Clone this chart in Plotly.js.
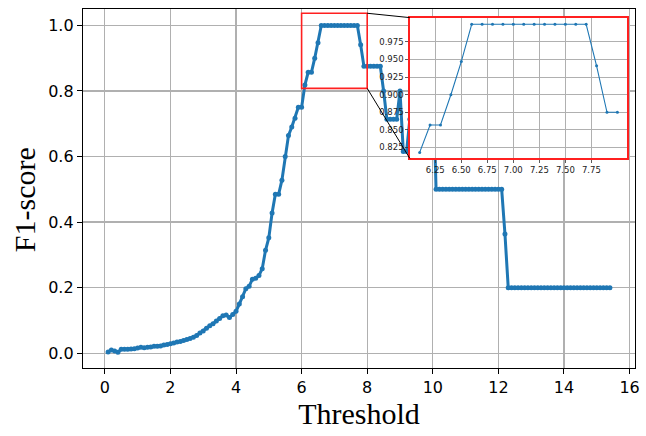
<!DOCTYPE html>
<html>
<head>
<meta charset="utf-8">
<script src="https://cdn.plot.ly/plotly-3.0.1.min.js"></script>
<style>html,body{margin:0;padding:0;background:#fff;}#chart{width:646px;height:436px;}</style>
</head>
<body>
<div id="chart"></div>
<script>
// Threshold values (0.1 .. 15.4, step 0.1) and read-off F1-scores
const thresholds = [
 0.1,0.2,0.3,0.4,0.5,0.6,0.7,0.8,0.9,1.0,
 1.1,1.2,1.3,1.4,1.5,1.6,1.7,1.8,1.9,2.0,
 2.1,2.2,2.3,2.4,2.5,2.6,2.7,2.8,2.9,3.0,
 3.1,3.2,3.3,3.4,3.5,3.6,3.7,3.8,3.9,4.0,
 4.1,4.2,4.3,4.4,4.5,4.6,4.7,4.8,4.9,5.0,
 5.1,5.2,5.3,5.4,5.5,5.6,5.7,5.8,5.9,6.0,
 6.1,6.2,6.3,6.4,6.5,6.6,6.7,6.8,6.9,7.0,
 7.1,7.2,7.3,7.4,7.5,7.6,7.7,7.8,7.9,8.0,
 8.1,8.2,8.3,8.4,8.5,8.6,8.7,8.8,8.9,9.0,
 9.1,9.2,9.3,9.4,9.5,9.6,9.7,9.8,9.9,10.0,
 10.1,10.2,10.3,10.4,10.5,10.6,10.7,10.8,10.9,11.0,
 11.1,11.2,11.3,11.4,11.5,11.6,11.7,11.8,11.9,12.0,
 12.1,12.2,12.3,12.4,12.5,12.6,12.7,12.8,12.9,13.0,
 13.1,13.2,13.3,13.4,13.5,13.6,13.7,13.8,13.9,14.0,
 14.1,14.2,14.3,14.4,14.5,14.6,14.7,14.8,14.9,15.0,
 15.1,15.2,15.3,15.4
];
const f1scores = [
 0.004,0.010,0.007,0.003,0.012,0.012,0.012,0.013,0.014,0.016,
 0.018,0.017,0.018,0.019,0.021,0.021,0.022,0.025,0.027,0.029,
 0.031,0.034,0.036,0.039,0.042,0.045,0.049,0.054,0.062,0.068,
 0.076,0.084,0.090,0.098,0.106,0.114,0.117,0.109,0.118,0.128,
 0.150,0.172,0.197,0.204,0.226,0.229,0.237,0.258,0.314,0.352,
 0.428,0.485,0.485,0.528,0.600,0.664,0.690,0.717,0.750,0.750,
 0.818,0.857,0.857,0.900,0.947,1.000,1.000,1.000,1.000,1.000,
 1.000,1.000,1.000,1.000,1.000,1.000,1.000,0.941,0.875,0.875,
 0.875,0.875,0.875,0.875,0.800,0.714,0.714,0.714,0.714,0.800,
 0.615,0.615,0.714,0.857,0.857,0.857,0.857,0.857,0.857,0.857,
 0.500,0.500,0.500,0.500,0.500,0.500,0.500,0.500,0.500,0.500,
 0.500,0.500,0.500,0.500,0.500,0.500,0.500,0.500,0.500,0.500,
 0.500,0.364,0.200,0.200,0.200,0.200,0.200,0.200,0.200,0.200,
 0.200,0.200,0.200,0.200,0.200,0.200,0.200,0.200,0.200,0.200,
 0.200,0.200,0.200,0.200,0.200,0.200,0.200,0.200,0.200,0.200,
 0.200,0.200,0.200,0.200
];
// Zoomed window shown in the inset
const zoomFrom = 6.1, zoomTo = 8.0;
const mainXTicks = [0,2,4,6,8,10,12,14,16];
const mainYTicks = [0.0,0.2,0.4,0.6,0.8,1.0];
const insetXTicks = [6.25,6.50,6.75,7.00,7.25,7.50,7.75];
const insetYTicks = [0.825,0.850,0.875,0.900,0.925,0.950,0.975];
const xTitle = "Threshold";
const yTitle = "F1-score";

const insetX = [], insetY = [];
thresholds.forEach((t,i)=>{ if (t >= zoomFrom-1e-9 && t <= zoomTo+1e-9){ insetX.push(t); insetY.push(f1scores[i]); } });

const blue = '#1f77b4';
const xr = [-0.665, 16.165], yr = [-0.045, 1.05];
const x2r = [6.005, 8.095], y2r = [0.8096, 1.0095];
const insetDomX = [0.592, 0.986], insetDomY = [0.584, 0.976];
const px = v => (v - xr[0])/(xr[1]-xr[0]);
const py = v => (v - yr[0])/(yr[1]-yr[0]);
const rect = {x0:6.0, x1:8.0, y0:0.808, y1:1.037};

const grid = '#b0b0b0';
const traces = [
  {x: thresholds, y: f1scores, type:'scatter', mode:'lines+markers',
   line:{color:blue, width:3}, marker:{color:blue, size:5}, xaxis:'x', yaxis:'y', hoverinfo:'skip'},
  {x: insetX, y: insetY, type:'scatter', mode:'lines+markers',
   line:{color:blue, width:1.1}, marker:{color:blue, size:3}, xaxis:'x2', yaxis:'y2', hoverinfo:'skip'}
];
const layout = {
  width:646, height:436,
  margin:{l:83, r:11, t:9, b:68},
  paper_bgcolor:'#fff', plot_bgcolor:'#fff',
  showlegend:false,
  font:{family:'DejaVu Sans', color:'#000'},
  xaxis:{range:xr, tickvals:mainXTicks, ticktext:mainXTicks.map(String), ticks:'outside', ticklen:5, tickwidth:1,
    tickcolor:'#000', tickfont:{size:16, family:'DejaVu Sans'}, showline:true, linecolor:'#000', linewidth:1.2, mirror:true,
    showgrid:true, gridcolor:grid, gridwidth:1.3, zeroline:false,
    title:{text:xTitle, font:{family:'Liberation Serif', size:30}, standoff:6}},
  yaxis:{range:yr, tickvals:mainYTicks, ticktext:mainYTicks.map(v=>v.toFixed(1)), ticks:'outside', ticklen:5, tickwidth:1,
    tickcolor:'#000', tickfont:{size:16, family:'DejaVu Sans'}, showline:true, linecolor:'#000', linewidth:1.2, mirror:true,
    showgrid:true, gridcolor:grid, gridwidth:1.3, zeroline:false},
  xaxis2:{domain:insetDomX, anchor:'y2', range:x2r, tickvals:insetXTicks, ticktext:insetXTicks.map(v=>v.toFixed(2)),
    ticks:'outside', ticklen:3, tickwidth:0.8, tickcolor:'#333', tickfont:{size:8.5, color:'#222'},
    showline:true, linecolor:'#ff2020', linewidth:1.5, mirror:true, showgrid:true, gridcolor:grid, gridwidth:1, zeroline:false},
  yaxis2:{domain:insetDomY, anchor:'x2', range:y2r, tickvals:insetYTicks, ticktext:insetYTicks.map(v=>v.toFixed(3)),
    ticks:'outside', ticklen:3, tickwidth:0.8, tickcolor:'#333', tickfont:{size:8.5, color:'#222'},
    showline:true, linecolor:'#ff2020', linewidth:1.5, mirror:true, showgrid:true, gridcolor:grid, gridwidth:1, zeroline:false},
  annotations:[
    {text:yTitle, xref:'paper', yref:'paper', x:-0.107, y:0.47, xanchor:'center', yanchor:'middle', textangle:-90,
     showarrow:false, font:{family:'Liberation Serif', size:30, color:'#000'}}
  ],
  shapes:[
    {type:'rect', xref:'x', yref:'y', x0:rect.x0, x1:rect.x1, y0:rect.y0, y1:rect.y1, line:{color:'#ff2020', width:1.6}, layer:'above'},
    {type:'line', xref:'paper', yref:'paper', x0:px(rect.x1), y0:py(rect.y1), x1:insetDomX[0], y1:insetDomY[1], line:{color:'#000', width:1}, layer:'above'},
    {type:'line', xref:'paper', yref:'paper', x0:px(rect.x1), y0:py(rect.y0), x1:insetDomX[0], y1:insetDomY[0], line:{color:'#000', width:1}, layer:'above'}
  ]
};
Plotly.newPlot('chart', traces, layout, {staticPlot:true, displayModeBar:false});
</script>
</body>
</html>
